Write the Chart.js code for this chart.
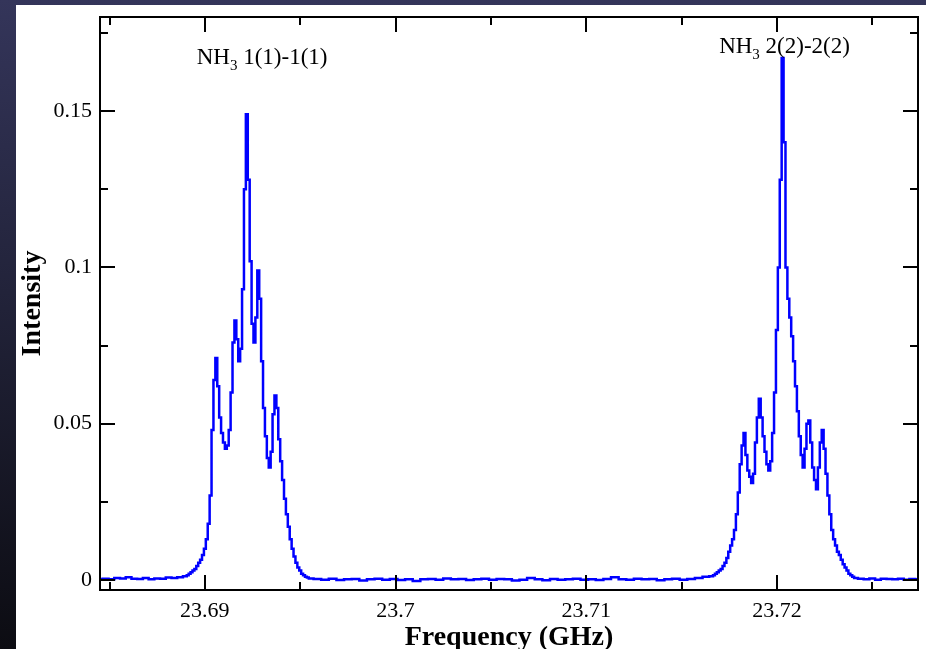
<!DOCTYPE html>
<html>
<head>
<meta charset="utf-8">
<script src="https://cdn.jsdelivr.net/npm/chart.js@4.4.1/dist/chart.umd.min.js"></script>
<style>
  html, body { margin: 0; padding: 0; }
  body {
    width: 926px; height: 649px; overflow: hidden; position: relative;
    background: linear-gradient(to bottom, #34355a 0%, #22233a 45%, #0c0c12 100%);
  }
  #panel { position: absolute; left: 16px; top: 5px; width: 910px; height: 644px; background: #fff; }
</style>
</head>
<body>
<div id="panel"><canvas id="spectrum" width="910" height="644"></canvas></div>
<script>
// Spectrum pieces (frequency in GHz, intensity)
const leftBaseFreq = [23.6845, 23.6848, 23.6851, 23.6854, 23.6857, 23.6860, 23.6863, 23.6866, 23.6869, 23.6872, 23.6875, 23.6878, 23.6881, 23.6884, 23.6887];
const leftBaseInt = [0.0003, 0.0004, 0.0002, 0.0006, 0.0005, 0.0009, 0.0004, 0.0003, 0.0006, 0.0002, 0.0005, 0.0004, 0.0008, 0.0006, 0.0009];

// NH3 (1,1)
const line11Freq = [23.6890, 23.6891, 23.6892, 23.6893, 23.6894, 23.6895, 23.6896, 23.6897, 23.6898, 23.6899,
  23.6900, 23.6901, 23.6902, 23.6903, 23.6904, 23.6905, 23.6906, 23.6907, 23.6908, 23.6909,
  23.6910, 23.6911, 23.6912, 23.6913, 23.6914, 23.6915, 23.6916, 23.6917, 23.6918, 23.6919,
  23.6920, 23.6921, 23.6922, 23.6923, 23.6924, 23.6925, 23.6926, 23.6927, 23.6928, 23.6929,
  23.6930, 23.6931, 23.6932, 23.6933, 23.6934, 23.6935, 23.6936, 23.6937, 23.6938, 23.6939,
  23.6940, 23.6941, 23.6942, 23.6943, 23.6944, 23.6945, 23.6946, 23.6947, 23.6948, 23.6949,
  23.6950, 23.6951, 23.6952, 23.6953, 23.6954, 23.6955];
const line11Int = [0.0012, 0.0015, 0.002, 0.0025, 0.003, 0.0035, 0.0045, 0.0055, 0.0065, 0.008,
  0.010, 0.013, 0.018, 0.027, 0.048, 0.064, 0.071, 0.062, 0.052, 0.047,
  0.044, 0.042, 0.043, 0.048, 0.060, 0.076, 0.083, 0.077, 0.070, 0.074,
  0.093, 0.125, 0.149, 0.128, 0.102, 0.082, 0.076, 0.084, 0.099, 0.090,
  0.070, 0.055, 0.046, 0.039, 0.036, 0.041, 0.053, 0.059, 0.055, 0.045,
  0.038, 0.032, 0.026, 0.021, 0.017, 0.013, 0.010, 0.0075, 0.0055, 0.004,
  0.003, 0.002, 0.0015, 0.001, 0.0008, 0.0005];

const midBaseFreq = [23.6959, 23.6963, 23.6967, 23.6971, 23.6975, 23.6979, 23.6983, 23.6987, 23.6991, 23.6995,
  23.6999, 23.7003, 23.7007, 23.7011, 23.7015, 23.7019, 23.7023, 23.7027, 23.7031, 23.7035,
  23.7039, 23.7043, 23.7047, 23.7051, 23.7055, 23.7059, 23.7063, 23.7067, 23.7071, 23.7075,
  23.7079, 23.7083, 23.7087, 23.7091, 23.7095, 23.7099, 23.7103, 23.7107, 23.7111, 23.7115,
  23.7119, 23.7123, 23.7127, 23.7131, 23.7135, 23.7139, 23.7143, 23.7147, 23.7151, 23.7155,
  23.7159, 23.7163];
const midBaseInt = [0.0003, 0.0001, 0.0004, 0.0000, 0.0002, 0.0003, -0.0002, 0.0002, 0.0004, 0.0001,
  0.0003, 0.0000, 0.0002, -0.0003, 0.0002, 0.0003, 0.0001, 0.0005, 0.0002, 0.0003,
  0.0000, 0.0002, 0.0004, 0.0001, 0.0003, 0.0002, -0.0002, 0.0001, 0.0006, 0.0002,
  -0.0001, 0.0003, 0.0001, 0.0002, 0.0004, 0.0001, 0.0002, 0.0000, 0.0003, 0.0009,
  0.0002, 0.0001, 0.0004, 0.0002, 0.0003, -0.0001, 0.0002, 0.0004, 0.0001, 0.0003,
  0.0006, 0.0010];

// NH3 (2,2)
const line22Freq = [23.7166, 23.7167, 23.7168, 23.7169, 23.7170, 23.7171, 23.7172, 23.7173, 23.7174, 23.7175,
  23.7176, 23.7177, 23.7178, 23.7179, 23.7180, 23.7181, 23.7182, 23.7183, 23.7184, 23.7185,
  23.7186, 23.7187, 23.7188, 23.7189, 23.7190, 23.7191, 23.7192, 23.7193, 23.7194, 23.7195,
  23.7196, 23.7197, 23.7198, 23.7199, 23.7200, 23.7201, 23.7202, 23.7203, 23.7204, 23.7205,
  23.7206, 23.7207, 23.7208, 23.7209, 23.7210, 23.7211, 23.7212, 23.7213, 23.7214, 23.7215,
  23.7216, 23.7217, 23.7218, 23.7219, 23.7220, 23.7221, 23.7222, 23.7223, 23.7224, 23.7225,
  23.7226, 23.7227, 23.7228, 23.7229, 23.7230, 23.7231, 23.7232, 23.7233, 23.7234, 23.7235,
  23.7236, 23.7237, 23.7238, 23.7239, 23.7240, 23.7241];
const line22Int = [0.0012, 0.0015, 0.002, 0.0025, 0.003, 0.0035, 0.0045, 0.0055, 0.007, 0.009,
  0.011, 0.013, 0.016, 0.021, 0.028, 0.037, 0.043, 0.047, 0.040, 0.035,
  0.033, 0.031, 0.034, 0.044, 0.052, 0.058, 0.052, 0.046, 0.041, 0.037,
  0.035, 0.038, 0.047, 0.060, 0.080, 0.100, 0.128, 0.167, 0.140, 0.100,
  0.090, 0.084, 0.078, 0.070, 0.062, 0.054, 0.046, 0.040, 0.036, 0.042,
  0.050, 0.051, 0.044, 0.036, 0.032, 0.029, 0.036, 0.044, 0.048, 0.042,
  0.034, 0.027, 0.021, 0.016, 0.013, 0.011, 0.009, 0.008, 0.0065, 0.005,
  0.004, 0.003, 0.002, 0.0015, 0.001, 0.0006];

const rightBaseFreq = [23.7244, 23.7247, 23.7250, 23.7253, 23.7256, 23.7259, 23.7262, 23.7265, 23.7268, 23.7271, 23.7274];
const rightBaseInt = [0.0004, 0.0002, 0.0005, 0.0001, 0.0004, 0.0003, 0.0002, 0.0004, 0.0001, 0.0003, 0.0002];

// Axis ticks
const xMajorTicks = [23.69, 23.70, 23.71, 23.72];
const xTickLabels = ['23.69', '23.7', '23.71', '23.72'];
const xMinorTicks = [23.685, 23.695, 23.705, 23.715, 23.725];
const yMajorTicks = [0, 0.05, 0.1, 0.15];
const yTickLabels = ['0', '0.05', '0.1', '0.15'];
const yMinorTicks = [0.025, 0.075, 0.125, 0.175];

const lineLabels = ['1(1)-1(1)', '2(2)-2(2)'];

const freqs = [].concat(leftBaseFreq, line11Freq, midBaseFreq, line22Freq, rightBaseFreq);
const ints = [].concat(leftBaseInt, line11Int, midBaseInt, line22Int, rightBaseInt);
const points = freqs.map((f, i) => ({ x: f, y: ints[i] }));

const serif = '"Liberation Serif", "Times New Roman", serif';

// frame, inward ticks on all four sides, and line labels
const frameTicks = {
  id: 'frameTicks',
  afterDatasetsDraw(chart) {
    const { ctx, chartArea: a, scales: { x, y } } = chart;
    ctx.save();
    ctx.strokeStyle = '#000';
    ctx.lineWidth = 2;
    const seg = (x1, y1, x2, y2) => { ctx.beginPath(); ctx.moveTo(x1, y1); ctx.lineTo(x2, y2); ctx.stroke(); };
    const xt = (vals, len) => vals.forEach(v => {
      const px = Math.round(x.getPixelForValue(v));
      seg(px, a.bottom, px, a.bottom - len);
      seg(px, a.top, px, a.top + len);
    });
    const yt = (vals, len) => vals.forEach(v => {
      const py = Math.round(y.getPixelForValue(v));
      seg(a.left, py, a.left + len, py);
      seg(a.right, py, a.right - len, py);
    });
    xt(xMajorTicks, 15); xt(xMinorTicks, 8);
    yt(yMajorTicks, 15); yt(yMinorTicks, 8);
    ctx.strokeRect(a.left, a.top, a.right - a.left, a.bottom - a.top);

    // NH3 labels
    const anchors = [[23.6930, 0.1675], [23.7204, 0.1712]];
    ctx.fillStyle = '#000';
    ctx.textBaseline = 'alphabetic';
    ctx.textAlign = 'left';
    anchors.forEach(([f, v], i) => {
      const big = '23px ' + serif, small = '15px ' + serif;
      ctx.font = big;
      const wNH = ctx.measureText('NH').width;
      const wRest = ctx.measureText(' ' + lineLabels[i]).width;
      ctx.font = small;
      const w3 = ctx.measureText('3').width;
      const total = wNH + w3 + wRest;
      let px = x.getPixelForValue(f) - total / 2;
      const py = y.getPixelForValue(v) + 8;
      ctx.font = big;
      ctx.fillText('NH', px, py);
      ctx.font = small;
      ctx.fillText('3', px + wNH, py + 6);
      ctx.font = big;
      ctx.fillText(' ' + lineLabels[i], px + wNH + w3, py);
    });
    ctx.restore();
  }
};

new Chart(document.getElementById('spectrum'), {
  type: 'line',
  data: {
    datasets: [{
      data: points,
      borderColor: '#0000ff',
      borderWidth: 2.5,
      pointRadius: 0,
      stepped: 'middle',
      fill: false
    }]
  },
  options: {
    responsive: false,
    animation: false,
    layout: { padding: { left: 0, top: 12, right: 8, bottom: 0 } },
    plugins: { legend: { display: false }, tooltip: { enabled: false } },
    scales: {
      x: {
        type: 'linear',
        min: 23.6845,
        max: 23.7274,
        grid: { display: false, drawTicks: false, tickLength: 0 },
        border: { display: false },
        afterBuildTicks: s => { s.ticks = xMajorTicks.map(v => ({ value: v })); },
        afterFit: s => { s.height = 59; s.paddingLeft = 0; s.paddingRight = 0; },
        ticks: {
          color: '#000',
          font: { family: serif, size: 22 },
          padding: 8,
          maxRotation: 0,
          autoSkip: false,
          callback: (v) => xTickLabels[xMajorTicks.findIndex(t => Math.abs(t - v) < 1e-6)]
        },
        title: {
          display: true,
          text: 'Frequency (GHz)',
          color: '#000',
          font: { family: serif, size: 28, weight: 'bold', lineHeight: 0.8 },
          padding: { top: 0, bottom: 0 }
        }
      },
      y: {
        min: -0.0032,
        max: 0.1801,
        grid: { display: false, drawTicks: false, tickLength: 0 },
        border: { display: false },
        afterBuildTicks: s => { s.ticks = yMajorTicks.map(v => ({ value: v })); },
        afterFit: s => { s.width = 84; s.paddingTop = 0; s.paddingBottom = 0; },
        ticks: {
          color: '#000',
          font: { family: serif, size: 22 },
          padding: 8,
          autoSkip: false,
          callback: (v) => yTickLabels[yMajorTicks.findIndex(t => Math.abs(t - v) < 1e-9)]
        },
        title: {
          display: true,
          text: 'Intensity',
          color: '#000',
          font: { family: serif, size: 28, weight: 'bold', lineHeight: 1.2 },
          padding: { top: 0, bottom: 0 }
        }
      }
    }
  },
  plugins: [frameTicks]
});
</script>
</body>
</html>
